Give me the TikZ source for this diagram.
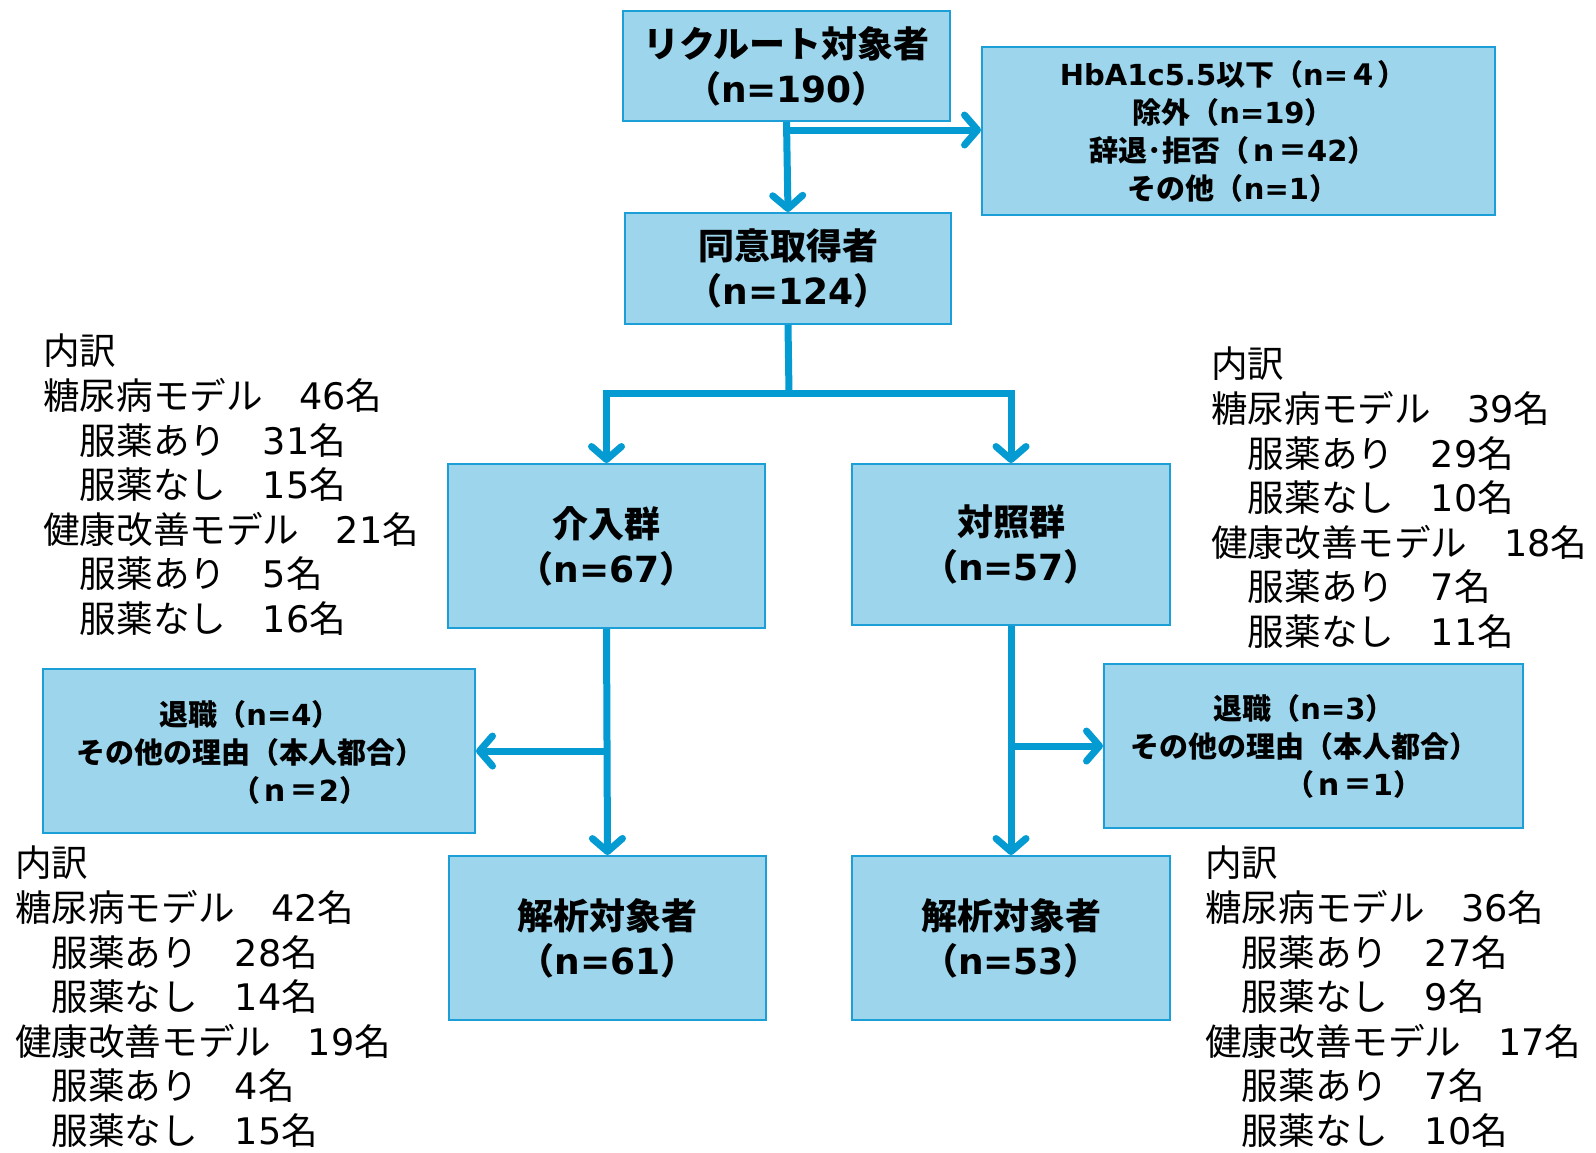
\documentclass[tikz,border=0pt]{standalone}
\usepackage{fontspec}
\setmainfont{Noto Sans CJK JP}
\newfontfamily\lat{DejaVu Sans}
\usetikzlibrary{arrows.meta}
\definecolor{boxfill}{RGB}{157,214,236}
\definecolor{boxline}{RGB}{28,158,214}
\definecolor{arrowc}{RGB}{4,154,210}
\tikzset{
  flowbox/.style={draw=boxline,fill=boxfill,line width=2pt,inner sep=0pt,align=center,font=\bfseries\fontsize{36}{45}\selectfont},
  smallbox/.style={flowbox,font=\bfseries\fontsize{29}{38}\selectfont},
  boxtext/.style={font=\bfseries\fontsize{29}{38}\selectfont,align=center,inner sep=0pt},
  sidetext/.style={anchor=north west,inner sep=0pt,align=left,font=\fontsize{36.6}{44.6}\selectfont},
  flowarrow/.style={draw=arrowc,line width=7pt,-{Straight Barb[round,length=13pt,width=30pt]}},
  flowline/.style={draw=arrowc,line width=7pt}
}
\begin{document}
\begin{tikzpicture}[x=1pt,y=-1pt]
\useasboundingbox (0,0) rectangle (1596,1152);
% boxes
\node[flowbox,minimum width=327pt,minimum height=110pt] (b1) at (786.5,66) {リクルート対象者\\（{\lat n=190}）};
\node[smallbox,minimum width=513pt,minimum height=168pt] (b2) at (1238.5,131) {};
\node[boxtext] (b2t) at (1233,131) {{\lat HbA1c5.5}以下（{\lat n=}４）\\除外（{\lat n=19}）\\辞退･拒否（ｎ＝{\lat 42}）\\その他（{\lat n=1}）};
\node[flowbox,minimum width=326pt,minimum height=111pt] (b3) at (788,268.5) {同意取得者\\（{\lat n=124}）};
\node[flowbox,minimum width=317pt,minimum height=164pt] (bI) at (606.5,546) {介入群\\（{\lat n=67}）};
\node[flowbox,minimum width=318pt,minimum height=161pt] (bC) at (1011,544.5) {対照群\\（{\lat n=57}）};
\node[smallbox,minimum width=432pt,minimum height=164pt] (bLW) at (259,751) {};
\node[boxtext] (bLWt) at (250,752) {退職（{\lat n=4}）\\その他の理由（本人都合）\\\hspace*{100pt}（ｎ＝{\lat 2}）};
\node[smallbox,minimum width=419pt,minimum height=164pt] (bRW) at (1313.5,746) {};
\node[boxtext] (bRWt) at (1304,746) {退職（{\lat n=3}）\\その他の理由（本人都合）\\\hspace*{100pt}（ｎ＝{\lat 1}）};
\node[flowbox,minimum width=317pt,minimum height=164pt] (bLA) at (607.5,938) {解析対象者\\（{\lat n=61}）};
\node[flowbox,minimum width=318pt,minimum height=164pt] (bRA) at (1011,938) {解析対象者\\（{\lat n=53}）};
% side texts
\node[sidetext] (tLT) at (43,334) {内訳\\糖尿病モデル　{\lat 46}名\\　服薬あり　{\lat 31}名\\　服薬なし　{\lat 15}名\\健康改善モデル　{\lat 21}名\\　服薬あり　{\lat 5}名\\　服薬なし　{\lat 16}名};
\node[sidetext] (tRT) at (1211,347) {内訳\\糖尿病モデル　{\lat 39}名\\　服薬あり　{\lat 29}名\\　服薬なし　{\lat 10}名\\健康改善モデル　{\lat 18}名\\　服薬あり　{\lat 7}名\\　服薬なし　{\lat 11}名};
\node[sidetext] (tLB) at (15,846) {内訳\\糖尿病モデル　{\lat 42}名\\　服薬あり　{\lat 28}名\\　服薬なし　{\lat 14}名\\健康改善モデル　{\lat 19}名\\　服薬あり　{\lat 4}名\\　服薬なし　{\lat 15}名};
\node[sidetext] (tRB) at (1205,846) {内訳\\糖尿病モデル　{\lat 36}名\\　服薬あり　{\lat 27}名\\　服薬なし　{\lat 9}名\\健康改善モデル　{\lat 17}名\\　服薬あり　{\lat 7}名\\　服薬なし　{\lat 10}名};
% connectors
\coordinate (j1) at (787,130);
\draw[flowarrow] (b1.south) -- (b3.north);
\draw[flowarrow] (j1) -- (j1 -| b2.west);
\coordinate (j2) at (789,393);
\draw[flowline] (b3.south) -- (j2);
\draw[flowarrow] (j2) -| (bI.north);
\draw[flowarrow] (j2) -| (bC.north);
\draw[flowarrow] (bI.south) -- (bLA.north);
\coordinate (j3) at (607,751);
\draw[flowarrow] (j3) -- (bLW.east);
\draw[flowarrow] (bC.south) -- (bRA.north);
\coordinate (j4) at (1011,746);
\draw[flowarrow] (j4) -- (bRW.west);
\end{tikzpicture}
\end{document}
